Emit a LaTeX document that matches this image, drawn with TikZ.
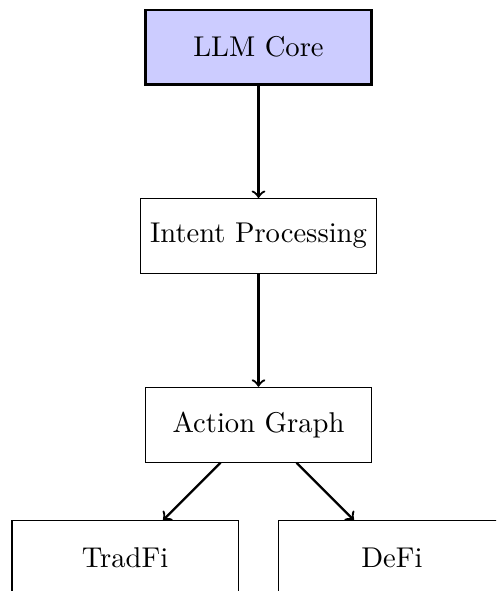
\documentclass[tikz,border=0pt]{standalone}
\tikzset{
    block/.style={draw, minimum width=2.78cm, minimum height=0.92cm, align=center},
    coreBlock/.style={block, thick, fill=blue!20},
    link/.style={->, thick}
}
\def\levelDist{2.32}
\def\branchDist{1.64}

\begin{document}
\begin{tikzpicture}
\clip (-3.177,0.58) rectangle (2.919,-6.683);
\node [coreBlock] (core) at (0,0) {LLM Core};
\node [block] (intent) at (0,-\levelDist) {Intent Processing};
\node [block] (action) at (0,-2*\levelDist) {Action Graph};
\node [block] (tradfi) at (-\branchDist,-2*\levelDist-\branchDist) {TradFi};
\node [block] (defi) at (\branchDist,-2*\levelDist-\branchDist) {DeFi};
\draw [link] (core) -- (intent);
\draw [link] (intent) -- (action);
\draw [link] (action) -- (tradfi);
\draw [link] (action) -- (defi);
\end{tikzpicture}
\end{document}
